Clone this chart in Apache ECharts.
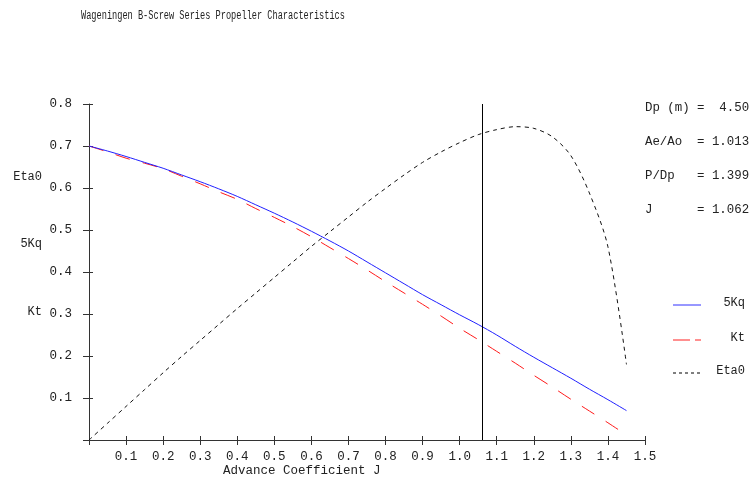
<!DOCTYPE html>
<html>
<head>
<meta charset="utf-8">
<script src="https://cdn.jsdelivr.net/npm/echarts@6/dist/echarts.min.js"></script>
<style>
  html, body { margin: 0; padding: 0; background: #fff; }
  #chart { width: 750px; height: 485px; }
</style>
</head>
<body>
<div id="chart"></div>
<script>
// Advance coefficient J sample points
const advanceJ = [0, 0.05, 0.1, 0.15, 0.2, 0.25, 0.3, 0.35, 0.4, 0.45, 0.5, 0.55, 0.6, 0.65, 0.7,
  0.75, 0.8, 0.85, 0.9, 0.95, 1.0, 1.05, 1.1, 1.15, 1.2, 1.25, 1.3, 1.35, 1.4, 1.45];

// Torque coefficient on the plot scale (5Kq)
const kq5 = [0.700, 0.688, 0.675, 0.661, 0.647, 0.631, 0.615, 0.598, 0.580, 0.560, 0.540, 0.519,
  0.497, 0.474, 0.450, 0.424, 0.398, 0.372, 0.346, 0.322, 0.298, 0.275, 0.250, 0.223, 0.197,
  0.172, 0.147, 0.121, 0.096, 0.070];

// Thrust coefficient
const kt = [0.700, 0.686, 0.671, 0.659, 0.646, 0.628, 0.610, 0.591, 0.573, 0.551, 0.530, 0.508,
  0.484, 0.458, 0.432, 0.405, 0.377, 0.350, 0.323, 0.295, 0.266, 0.239, 0.211, 0.183, 0.154,
  0.126, 0.097, 0.069, 0.041, 0.012];

// Open-water efficiency
const eta0 = [0.000, 0.040, 0.080, 0.120, 0.160, 0.199, 0.237, 0.275, 0.313, 0.350, 0.387, 0.424,
  0.461, 0.496, 0.531, 0.566, 0.599, 0.631, 0.661, 0.686, 0.708, 0.727, 0.739, 0.746, 0.742,
  0.722, 0.677, 0.588, 0.460, 0.180];

const designJ = 1.062;

const propellerInfo = [
  'Dp (m) =  4.50',
  'Ae/Ao  = 1.013',
  'P/Dp   = 1.399',
  'J      = 1.062'
];

const axisNames = ['Eta0', '5Kq', 'Kt'];

const MONO = '"Liberation Mono", "DejaVu Sans Mono", monospace';
const INK = '#222';

const pairs = ys => advanceJ.map((j, i) => [j, ys[i]]);
const tickFmt = v => (Math.abs(v) < 1e-9 ? '' : v.toFixed(1));

const chart = echarts.init(document.getElementById('chart'), null, { renderer: 'canvas' });

const baseX = { type: 'value', min: 0, max: 1.5, interval: 0.1, splitLine: { show: false } };
const baseY = { type: 'value', min: 0, max: 0.8, interval: 0.1, splitLine: { show: false } };

const graphics = [];

// Title (condensed monospace)
graphics.push({
  type: 'text', x: 81, y: 16, scaleX: 0.69,
  style: { text: 'Wageningen B-Screw Series Propeller Characteristics', font: '12.5px ' + MONO,
    fill: INK, align: 'left', verticalAlign: 'middle' }
});

// Left-hand curve names
[[axisNames[0], 177], [axisNames[1], 244], [axisNames[2], 312]].forEach(([t, y]) => {
  graphics.push({ type: 'text', x: 42, y: y,
    style: { text: t, font: '12px ' + MONO, fill: INK, align: 'right', verticalAlign: 'middle' } });
});

// X axis title
graphics.push({ type: 'text', x: 223, y: 471,
  style: { text: 'Advance Coefficient J', font: '12.5px ' + MONO, fill: INK, align: 'left', verticalAlign: 'middle' } });

// Propeller particulars
propellerInfo.forEach((t, i) => {
  graphics.push({ type: 'text', x: 645, y: 108 + i * 34,
    style: { text: t, font: '12.4px ' + MONO, fill: INK, align: 'left', verticalAlign: 'middle' } });
});

// Legend
const legendRows = [
  { name: '5Kq', y: 305, color: '#3030ff', dash: null },
  { name: 'Kt', y: 340, color: '#ff2020', dash: [17, 5] },
  { name: 'Eta0', y: 373, color: '#000', dash: [3, 3] }
];
legendRows.forEach(r => {
  graphics.push({ type: 'line', shape: { x1: 673, y1: r.y, x2: 701, y2: r.y },
    style: { stroke: r.color, lineWidth: 1, lineDash: r.dash } });
  graphics.push({ type: 'text', x: 745, y: r.y - 2,
    style: { text: r.name, font: '12px ' + MONO, fill: INK, align: 'right', verticalAlign: 'middle' } });
});

chart.setOption({
  animation: false,
  backgroundColor: '#fff',
  grid: { left: 89, right: 105, top: 104, bottom: 45, containLabel: false },
  xAxis: [
    Object.assign({}, baseX, {
      position: 'bottom',
      axisLine: { show: true, lineStyle: { color: '#333', width: 1 } },
      axisTick: { show: true, inside: false, length: 5, lineStyle: { color: '#333' } },
      axisLabel: { show: true, margin: 10, color: INK, fontFamily: MONO, fontSize: 12.5, formatter: tickFmt }
    }),
    Object.assign({}, baseX, {
      position: 'bottom',
      axisLine: { show: false },
      axisTick: { show: true, inside: true, length: 4, lineStyle: { color: '#333' } },
      axisLabel: { show: false }
    })
  ],
  yAxis: [
    Object.assign({}, baseY, {
      position: 'left',
      axisLine: { show: true, lineStyle: { color: '#333', width: 1 } },
      axisTick: { show: true, inside: false, length: 6, lineStyle: { color: '#333' } },
      axisLabel: { show: true, margin: 17, color: INK, fontFamily: MONO, fontSize: 12.5,
        formatter: tickFmt, padding: [0, 0, 3, 0] }
    }),
    Object.assign({}, baseY, {
      position: 'left',
      axisLine: { show: false },
      axisTick: { show: true, inside: true, length: 4, lineStyle: { color: '#333' } },
      axisLabel: { show: false }
    })
  ],
  series: [
    {
      name: '5Kq', type: 'line', data: pairs(kq5), showSymbol: false, smooth: 0.3,
      lineStyle: { color: '#2020ff', width: 1 }, z: 3
    },
    {
      name: 'Kt', type: 'line', data: pairs(kt), showSymbol: false, smooth: 0.3,
      lineStyle: { color: '#ff1a1a', width: 1, type: [15, 13] }, z: 2,
      markLine: {
        silent: true, symbol: 'none', label: { show: false },
        lineStyle: { color: '#000', width: 1, type: 'solid' },
        data: [{ xAxis: designJ }]
      }
    },
    {
      name: 'Eta0', type: 'line', data: pairs(eta0), showSymbol: false, smooth: 0.3,
      lineStyle: { color: '#111', width: 1, type: [4, 4] }, z: 2
    }
  ],
  graphic: graphics
});
</script>
</body>
</html>
